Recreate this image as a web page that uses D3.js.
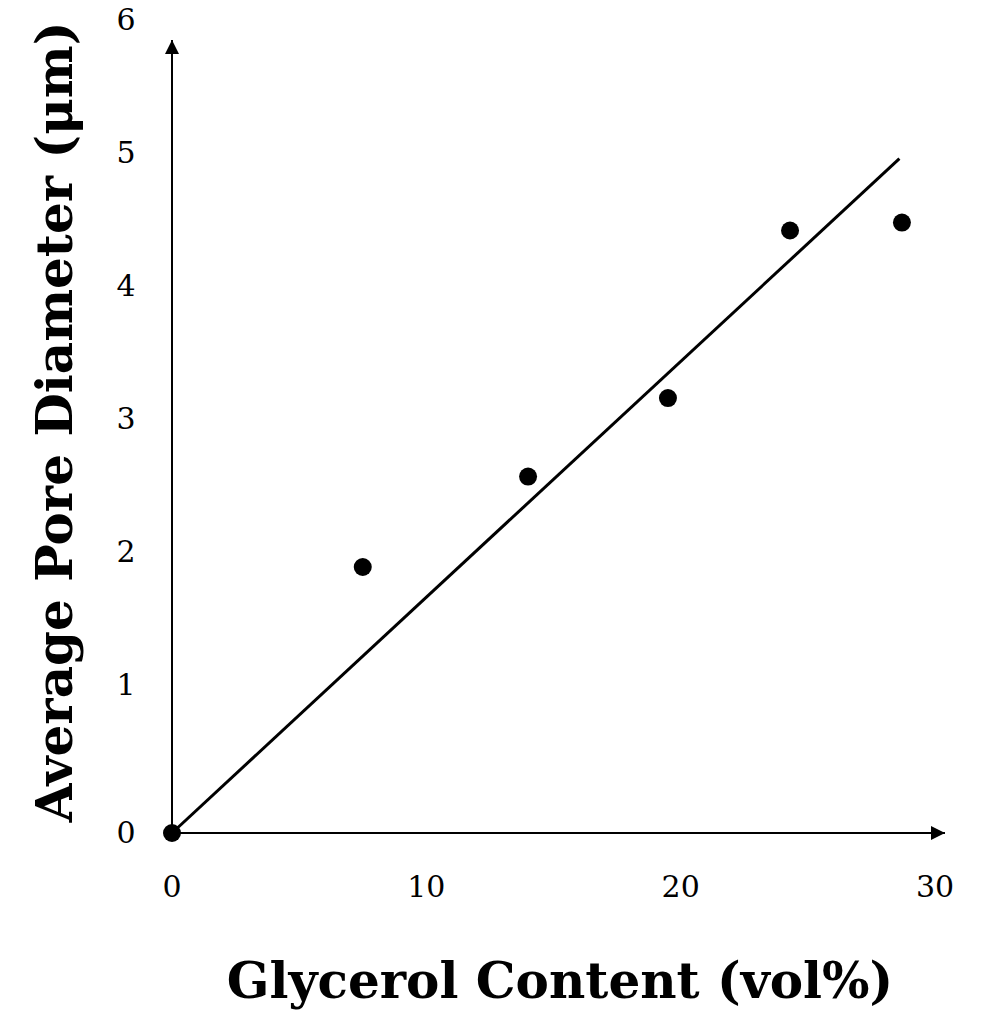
<!DOCTYPE html>
<html><head><meta charset="utf-8">
<script src="https://cdn.jsdelivr.net/npm/d3@7"></script>
<style>body{margin:0;background:#fff}</style>
</head><body><div id="chart"></div>
<script>
var xVals = [0, 7.5, 14.0, 19.5, 24.3, 28.7]
var yVals = [0, 2.0, 2.68, 3.27, 4.53, 4.59]
var xTicks = [0, 10, 20, 30]
var yTicks = [0, 1, 2, 3, 4, 5, 6]
var fitX = [0, 28.6]
var fitY = [0, 5.07]

var W = 984, H = 1025
var svg = d3.select("#chart").append("svg").attr("width", W).attr("height", H)
  .style("font-family", "'DejaVu Serif', 'Liberation Serif', serif")

var x = d3.scaleLinear().domain([0, 30]).range([172, 935])
var y = d3.scaleLinear().domain([0, 6]).range([833, 35])

var defs = svg.append("defs")
defs.append("marker").attr("id", "arr").attr("viewBox", "0 0 10 10")
  .attr("refX", 10).attr("refY", 5).attr("markerWidth", 22).attr("markerHeight", 14)
  .attr("markerUnits", "userSpaceOnUse").attr("orient", "auto")
  .append("path").attr("d", "M0,0 L10,5 L0,10 Z").attr("fill", "#000")

svg.append("line").attr("x1", x(0)).attr("y1", y(0)).attr("x2", 945).attr("y2", y(0))
  .attr("stroke", "#000").attr("stroke-width", 2).attr("marker-end", "url(#arr)")
svg.append("line").attr("x1", x(0)).attr("y1", y(0)).attr("x2", x(0)).attr("y2", 40)
  .attr("stroke", "#000").attr("stroke-width", 2).attr("marker-end", "url(#arr)")

svg.selectAll(".xt").data(xTicks).enter().append("text")
  .attr("x", function (d) { return x(d) }).attr("y", 897)
  .attr("text-anchor", "middle").attr("font-size", 30).text(function (d) { return d })
svg.selectAll(".yt").data(yTicks).enter().append("text")
  .attr("x", 126).attr("y", function (d) { return d == 0 ? y(d) + 10 : y(d) - 5 })
  .attr("text-anchor", "middle").attr("font-size", 30).text(function (d) { return d })

svg.append("line").attr("x1", x(fitX[0])).attr("y1", y(fitY[0]))
  .attr("x2", x(fitX[1])).attr("y2", y(fitY[1])).attr("stroke", "#000").attr("stroke-width", 3)

svg.selectAll("circle").data(xVals).enter().append("circle")
  .attr("cx", function (d) { return x(d) }).attr("cy", function (d, i) { return y(yVals[i]) })
  .attr("r", 9).attr("fill", "#000")

svg.append("text").attr("x", 560).attr("y", 998).attr("text-anchor", "middle")
  .attr("font-size", 50).attr("font-weight", "bold").text("Glycerol Content (vol%)")
svg.append("text").attr("transform", "translate(72,422) rotate(-90)").attr("text-anchor", "middle")
  .attr("font-size", 50).attr("font-weight", "bold").text("Average Pore Diameter (μm)")
</script></body></html>
